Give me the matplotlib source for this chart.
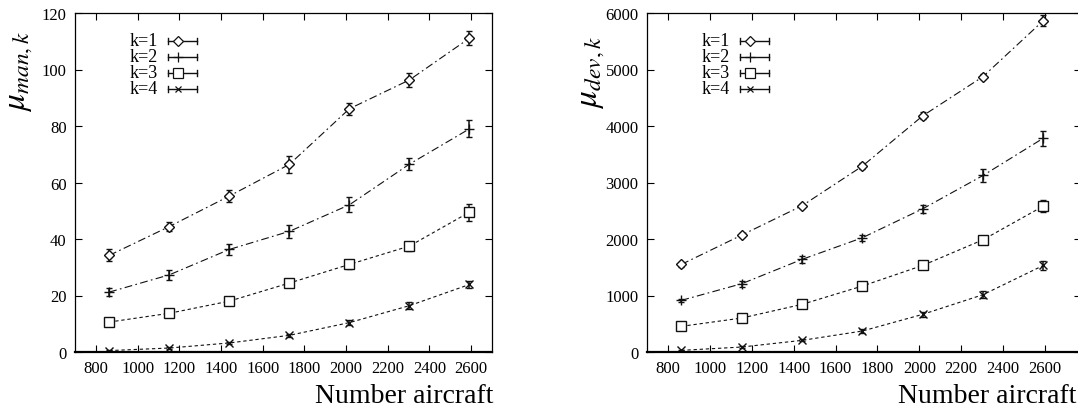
import matplotlib
matplotlib.use("Agg")
import matplotlib.pyplot as plt
from matplotlib.lines import Line2D

plt.rcParams['font.family'] = ['Liberation Serif', 'DejaVu Serif']
plt.rcParams['mathtext.fontset'] = 'stix'

# number of aircraft
aircraft = [864, 1152, 1440, 1728, 2016, 2304, 2592]
labels = ["k=1", "k=2", "k=3", "k=4"]

# mu_man,k
man_k1 = [34.2, 44.4, 55.2, 66.4, 86.1, 96.3, 111.1]
man_k2 = [21.2, 27.3, 36.3, 42.7, 52.1, 66.5, 79.0]
man_k3 = [10.6, 13.7, 18.0, 24.4, 31.0, 37.5, 49.5]
man_k4 = [0.5, 1.4, 3.2, 5.9, 10.4, 16.4, 23.9]
man_err_k1 = [2.1, 1.7, 2.2, 2.9, 2.2, 2.5, 2.6]
man_err_k2 = [1.5, 1.8, 2.0, 2.2, 2.6, 2.0, 3.0]
man_err_k3 = [1.2, 1.2, 1.4, 1.5, 1.6, 1.6, 3.0]
man_err_k4 = [0.3, 0.4, 0.5, 0.6, 0.8, 1.2, 1.3]

# mu_dev,k
dev_k1 = [1550, 2069, 2588, 3289, 4179, 4874, 5865]
dev_k2 = [914, 1208, 1639, 2022, 2534, 3124, 3784]
dev_k3 = [454, 601, 843, 1167, 1532, 1986, 2582]
dev_k4 = [29, 88, 206, 371, 666, 1014, 1532]
dev_err_k1 = [40, 40, 40, 50, 60, 40, 100]
dev_err_k2 = [30, 50, 60, 50, 70, 110, 130]
dev_err_k3 = [20, 30, 30, 40, 50, 50, 110]
dev_err_k4 = [10, 15, 20, 30, 40, 60, 80]

markers = ['D', '+', 's', 'x']
msizes = [5.5, 7, 7, 5.5]
dashdot = (0, (7, 3, 1.5, 3))
dashed = (0, (3, 2.5))
linestyles = [dashdot, dashdot, dashed, dashed]
col = '#111111'

W, H = 1078, 410
fig = plt.figure(figsize=(W / 100, H / 100), dpi=100)


def make_panel(left_px, right_px, ymax, ystep, xmax, series, errors, ylabel):
    ax = fig.add_axes([left_px / W, 1 - 353 / H, (right_px - left_px) / W, (353 - 14) / H])
    for i in range(4):
        ax.errorbar(aircraft, series[i], yerr=errors[i], color=col, lw=0.8,
                    ls=linestyles[i], marker=markers[i], ms=msizes[i],
                    mfc='white' if markers[i] in 'Ds' else col, mec=col, mew=1.0,
                    elinewidth=1.1, capsize=2.5, capthick=1.1)
    ax.set_xlim(700, xmax)
    ax.set_ylim(0, ymax)
    ax.set_xticks(range(800, 2601, 200))
    ax.set_yticks(range(0, ymax + 1, ystep))
    ax.tick_params(direction='in', top=True, right=True, length=5, width=0.8,
                   labelsize=12, pad=6, colors='black')
    for s in ax.spines.values():
        s.set_linewidth(0.9)
    ax.spines['bottom'].set_linewidth(1.6)
    ax.axhline(0, color=col, lw=1.0, ls=':')

    # gnuplot-like key
    wpx = right_px - left_px
    hpx = 353 - 14
    rows = [42, 58, 74, 90]
    for i, lab in enumerate(labels):
        yf = (353 - rows[i]) / hpx
        ax.text(83 / wpx, yf, lab, transform=ax.transAxes, ha='right', va='center',
                fontsize=13)
        x0, x1 = 93 / wpx, 122 / wpx
        ax.add_line(Line2D([x0, x1], [yf, yf], transform=ax.transAxes, color=col, lw=1.0))
        for xc in (x0, x1):
            ax.add_line(Line2D([xc, xc], [yf - 3 / hpx, yf + 3 / hpx], transform=ax.transAxes,
                               color=col, lw=1.0))
        ax.add_line(Line2D([103 / wpx], [yf], transform=ax.transAxes, color=col,
                           marker=markers[i], ms=msizes[i] - 0.5,
                           mfc='white' if markers[i] in 'Ds' else col, mec=col, mew=0.9))

    ax.text(left_px - 55, H - 72, ylabel, transform=None, rotation=90, ha='center',
            va='center', fontsize=24)
    return ax


ax1 = make_panel(75, 492, 120, 20, 2700,
                 [man_k1, man_k2, man_k3, man_k4],
                 [man_err_k1, man_err_k2, man_err_k3, man_err_k4],
                 r'$\mu_{man,k}$')
ax1.text(493, 7, 'Number aircraft', transform=None, ha='right', va='baseline',
         fontsize=20)

ax2 = make_panel(647, 1081, 6000, 1000, 2772,
                 [dev_k1, dev_k2, dev_k3, dev_k4],
                 [dev_err_k1, dev_err_k2, dev_err_k3, dev_err_k4],
                 r'$\mu_{dev,k}$')
ax2.text(898, 7, 'Number aircraft', transform=None, ha='left', va='baseline',
         fontsize=20)

fig.savefig('out.png', dpi=100)
